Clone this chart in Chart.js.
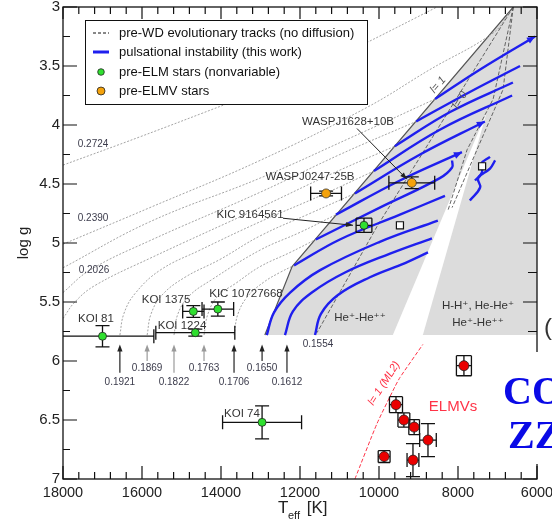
<!DOCTYPE html>
<html>
<head>
<meta charset="utf-8">
<script src="https://cdn.jsdelivr.net/npm/chart.js@4.4.1/dist/chart.umd.min.js"></script>
<style>
  html, body { margin: 0; padding: 0; background: #fff; }
</style>
</head>
<body>
<canvas id="myChart" width="552" height="523"></canvas>
<script>
// axis ticks
const xTicks = [18000, 16000, 14000, 12000, 10000, 8000, 6000];
const yTicks = [3, 3.5, 4, 4.5, 5, 5.5, 6, 6.5, 7];

// pre-WD evolutionary tracks [Teff, log g], part outside the instability strip
const track2724 = [[18000, 4.34], [16050, 4.10], [13850, 3.82], [12000, 3.58], [10300, 3.30], [8530, 3.00]];
const track2390 = [[18000, 5.01], [15800, 4.70], [13010, 4.30], [10300, 3.85], [8710, 3.53], [7110, 3.22], [6680, 3.04]];
const trackA = [[18000, 5.21], [15800, 4.82], [13010, 4.45], [10730, 4.11], [8580, 3.78]];
const trackB = [[18000, 5.42], [17320, 5.23], [15800, 4.98], [13010, 4.57], [10990, 4.25], [9060, 3.97]];
const track2026 = [[18000, 5.64], [17700, 5.50], [17190, 5.36], [15800, 5.13], [13010, 4.70], [11240, 4.42], [9600, 4.18]];
const track1921 = [[16560, 5.78], [16460, 5.60], [16180, 5.43], [15540, 5.23], [14530, 5.06], [13010, 4.82], [11490, 4.60], [10130, 4.39]];
const track1869 = [[15870, 5.78], [15770, 5.60], [15490, 5.44], [14910, 5.29], [14030, 5.14], [13010, 4.94], [11750, 4.75], [10610, 4.58]];
const track1822 = [[15190, 5.78], [15090, 5.60], [14810, 5.45], [14230, 5.31], [13010, 5.06], [12000, 4.91], [11090, 4.76]];
const track1763 = [[14430, 5.78], [14330, 5.60], [14080, 5.45], [13620, 5.34], [13010, 5.20], [12250, 5.08], [11600, 4.97]];
const track1706 = [[13670, 5.78], [13570, 5.60], [13320, 5.45], [12910, 5.33], [12510, 5.25], [12150, 5.19]];

// same tracks inside the strip (pulsational instability)
const blueA = [[8580, 3.78], [7440, 3.53], [6050, 3.25]];
const blueB = [[9060, 3.97], [7700, 3.72], [6430, 3.50]];
const blue2026 = [[9600, 4.18], [8200, 3.89], [6610, 3.64]];
const blue1921 = [[10130, 4.39], [8460, 4.04], [6630, 3.75]];
const blue1869 = [[10610, 4.58], [8960, 4.25], [7320, 3.97]];
const blue1822 = [[11090, 4.76], [9470, 4.47], [7900, 4.23]];
const blue1763 = [[11600, 4.97], [9980, 4.70], [8460, 4.45], [8150, 4.36], [8150, 4.30]];
const blue1706 = [[12150, 5.19], [10990, 4.97], [9470, 4.76], [8330, 4.60]];
const blue1650 = [[12840, 5.78], [12660, 5.59], [12250, 5.42], [11490, 5.23], [9980, 4.99], [8510, 4.81]];
const blue1612 = [[12380, 5.78], [12180, 5.58], [11700, 5.42], [10860, 5.25], [9720, 5.09], [8660, 4.96]];
const blue1554 = [[11620, 5.78], [11470, 5.60], [11040, 5.44], [10230, 5.29], [9340, 5.17], [8760, 5.08]];
const blueHook1 = [[7700, 4.64], [7440, 4.53], [7490, 4.45], [7190, 4.37], [7060, 4.30]];
const blueHook2 = [[7570, 4.47], [7390, 4.40], [7420, 4.33], [7190, 4.27]];

// instability strip (grey) and the gap in it
const stripT = [6600, 6000, 6000, 12890, 12200];
const stripG = [3.0, 3.0, 5.78, 5.78, 5.20];
const gapT = [7270, 9650, 8890];
const gapG = [3.89, 5.78, 5.78];

// l = 0 and other dashed boundaries, l = 1 (ML2) red
const edgeL0 = [[6600, 3.0], [10050, 4.86], [11570, 5.76]];
const edgeD2 = [[6600, 3.0], [7110, 3.78], [7770, 4.21], [8250, 4.72]];
const edgeD3 = [[6600, 3.0], [6860, 3.70], [7520, 4.21], [8150, 4.70]];
const edgeML2 = [[10610, 7.0], [10050, 6.53], [9600, 6.22], [9470, 6.14], [8890, 5.86]];

// stars
const elmNames = ["KOI 81", "KOI 1224", "KOI 1375", "KIC 10727668", "KOI 74", "KIC 9164561"];
const elmT = [17000, 14650, 14700, 14080, 12960, 10380];
const elmG = [5.79, 5.76, 5.58, 5.56, 6.52, 4.85];
const elmErrT = [1300, 1000, 270, 400, 1000, 200];
const elmErrG = [0.09, 0.03, 0.05, 0.06, 0.14, 0.06];

const elmvNames = ["WASPJ1628+10B", "WASPJ0247-25B"];
const elmvT = [9170, 11340];
const elmvG = [4.49, 4.58];
const elmvErrT = [580, 390];
const elmvErrG = [0.05, 0.02];

const zzT = [7850, 9570, 9370, 9110, 8760, 9140, 9870];
const zzG = [6.04, 6.37, 6.50, 6.56, 6.67, 6.84, 6.81];
const zzErrT = [190, 165, 150, 135, 210, 150, 150];
const zzErrG = [0.085, 0.068, 0.06, 0.064, 0.14, 0.14, 0.05];

const openT = [9470, 7390];
const openG = [4.85, 4.35];

// track masses marked by arrows at the bottom
const arrowMass = ["0.1921", "0.1869", "0.1822", "0.1763", "0.1706", "0.1650", "0.1612"];
const arrowT = [16560, 15870, 15190, 14430, 13670, 12960, 12330];

// text placed on the diagram
const notes = [
  { t: "WASPJ1628+10B", T: 10785, g: 3.97 },
  { t: "WASPJ0247-25B", T: 11747, g: 4.44 },
  { t: "KIC 9164561", T: 13266, g: 4.76 },
  { t: "KOI 81", T: 17165, g: 5.64 },
  { t: "KOI 1375", T: 15392, g: 5.48 },
  { t: "KOI 1224", T: 14987, g: 5.70 },
  { t: "KIC 10727668", T: 13367, g: 5.43 },
  { t: "KOI 74", T: 13468, g: 6.45 },
  { t: "He\u207A-He\u207A\u207A", T: 10481, g: 5.63 },
  { t: "H-H\u207A, He-He\u207A", T: 7494, g: 5.53 },
  { t: "He\u207A-He\u207A\u207A", T: 7494, g: 5.68 }
];
const massNotes = [
  { t: "0.2724", T: 17240, g: 4.16 },
  { t: "0.2390", T: 17240, g: 4.79 },
  { t: "0.2026", T: 17215, g: 5.23 },
  { t: "0.1554", T: 11544, g: 5.86 }
];

const FONT = '"Liberation Sans", Arial, "DejaVu Sans", sans-serif';

function pts(list) {
  return list.map(p => ({ x: p[0], y: p[1] }));
}
function line(list, color, width, dash, order, tension, extra) {
  return Object.assign({
    data: pts(list), showLine: true, borderColor: color, borderWidth: width,
    borderDash: dash, pointRadius: 0, pointHoverRadius: 0, tension: tension,
    fill: false, order: order
  }, extra || {});
}

const dotted = [track2724, track2390, trackA, trackB, track2026, track1921, track1869, track1822, track1763, track1706];
const blues = [blueA, blueB, blue2026, blue1921, blue1869, blue1822, blue1763, blue1706, blue1650, blue1612, blue1554, blueHook1, blueHook2];
const withArrow = [blueA, blue1869, blue1822];

let datasets = [];
datasets.push({ data: elmT.map((t, i) => ({ x: t, y: elmG[i] })), pointStyle: "circle", pointRadius: 4, backgroundColor: "#2fe02f", borderColor: "#222", borderWidth: 0.8, order: 0, marker: true });
datasets.push({ data: elmvT.map((t, i) => ({ x: t, y: elmvG[i] })), pointStyle: "circle", pointRadius: 4.5, backgroundColor: "#f4a20c", borderColor: "#333", borderWidth: 0.8, order: 0, marker: true });
datasets.push({ data: zzT.map((t, i) => ({ x: t, y: zzG[i] })), pointStyle: "circle", pointRadius: 5, backgroundColor: "#ea0000", borderColor: "#222", borderWidth: 0.8, order: 0, marker: true });
datasets.push({ data: openT.map((t, i) => ({ x: t, y: openG[i] })), pointStyle: "rect", pointRadius: 5, backgroundColor: "#fff", borderColor: "#111", borderWidth: 1.2, order: 0 });
blues.forEach(b => datasets.push(line(b, "#1f1fee", 2.4, [], 1, 0.4, { arrow: withArrow.includes(b) })));
dotted.forEach(d => datasets.push(line(d, "#9a9a9a", 0.9, [2, 1.6], 2, 0.4)));
[edgeL0, edgeD2, edgeD3].forEach(d => datasets.push(line(d, "#555", 0.9, [4, 2], 2, 0)));
datasets.push(line(edgeML2, "#ff3347", 1, [4, 2], 2, 0.2));

let errDone = false;
const boxedELM = [false, false, false, false, false, true];
const boxedZZ = [true, true, true, true, false, false, true];

function P(chart, T, g) {
  return [chart.scales.x.getPixelForValue(T), chart.scales.y.getPixelForValue(g)];
}
function polyFill(ctx, chart, T, G, color) {
  ctx.fillStyle = color;
  ctx.beginPath();
  T.forEach((t, i) => {
    const [x, y] = P(chart, t, G[i]);
    if (i === 0) ctx.moveTo(x, y); else ctx.lineTo(x, y);
  });
  ctx.closePath();
  ctx.fill();
}
function errorBar(ctx, chart, T, g, eT, eG, boxed) {
  const [x, y] = P(chart, T, g);
  const [xa, ya] = P(chart, T + eT, g - eG);
  const [xb, yb] = P(chart, T - eT, g + eG);
  const cx = boxed ? Math.abs(xb - xa) / 2 : 7;
  const cy = boxed ? Math.abs(yb - ya) / 2 : 7;
  ctx.beginPath();
  ctx.moveTo(xa, y); ctx.lineTo(xb, y);
  ctx.moveTo(x, ya); ctx.lineTo(x, yb);
  ctx.moveTo(xa, y - cy); ctx.lineTo(xa, y + cy);
  ctx.moveTo(xb, y - cy); ctx.lineTo(xb, y + cy);
  ctx.moveTo(x - cx, ya); ctx.lineTo(x + cx, ya);
  ctx.moveTo(x - cx, yb); ctx.lineTo(x + cx, yb);
  ctx.stroke();
}
function arrowHead(ctx, xa, ya, xb, yb, size, half) {
  const a = Math.atan2(yb - ya, xb - xa);
  ctx.beginPath();
  ctx.moveTo(xb, yb);
  ctx.lineTo(xb - size * Math.cos(a) + half * Math.sin(a), yb - size * Math.sin(a) - half * Math.cos(a));
  ctx.lineTo(xb - size * Math.cos(a) - half * Math.sin(a), yb - size * Math.sin(a) + half * Math.cos(a));
  ctx.closePath();
  ctx.fill();
}
function pointer(ctx, chart, T1, g1, T2, g2) {
  const [x1, y1] = P(chart, T1, g1);
  const [x2, y2] = P(chart, T2, g2);
  ctx.strokeStyle = "#222"; ctx.fillStyle = "#222"; ctx.lineWidth = 1;
  ctx.beginPath(); ctx.moveTo(x1, y1); ctx.lineTo(x2, y2); ctx.stroke();
  arrowHead(ctx, x1, y1, x2, y2, 7, 2.5);
}
function rotText(ctx, chart, txt, T, g, ang) {
  const [x, y] = P(chart, T, g);
  ctx.save();
  ctx.translate(x, y);
  ctx.rotate(ang);
  ctx.fillText(txt, 0, 0);
  ctx.restore();
}

const decor = {
  id: "decor",
  beforeDatasetsDraw(chart) {
    const { ctx, chartArea: a } = chart;
    errDone = false;
    ctx.save();
    ctx.beginPath(); ctx.rect(a.left, a.top, a.right - a.left, a.bottom - a.top); ctx.clip();
    polyFill(ctx, chart, stripT, stripG, "#dcdcdc");
    polyFill(ctx, chart, gapT, gapG, "#ffffff");
    ctx.strokeStyle = "#555"; ctx.lineWidth = 1.2;
    ctx.beginPath();
    let p = P(chart, stripT[0], stripG[0]); ctx.moveTo(p[0], p[1]);
    p = P(chart, stripT[4], stripG[4]); ctx.lineTo(p[0], p[1]);
    p = P(chart, stripT[3], stripG[3]); ctx.lineTo(p[0], p[1]);
    ctx.stroke();
    ctx.restore();
  },
  beforeDatasetDraw(chart, args) {
    const ds = chart.data.datasets[args.index];
    if (!ds.marker || errDone) return;
    errDone = true;
    const { ctx, chartArea: a } = chart;
    ctx.save();
    ctx.beginPath(); ctx.rect(a.left, a.top, a.right - a.left, a.bottom - a.top); ctx.clip();
    ctx.strokeStyle = "#111"; ctx.lineWidth = 1.3;
    elmT.forEach((t, i) => errorBar(ctx, chart, t, elmG[i], elmErrT[i], elmErrG[i], boxedELM[i]));
    elmvT.forEach((t, i) => errorBar(ctx, chart, t, elmvG[i], elmvErrT[i], elmvErrG[i], false));
    zzT.forEach((t, i) => errorBar(ctx, chart, t, zzG[i], zzErrT[i], zzErrG[i], boxedZZ[i]));
    ctx.restore();
  },
  afterDatasetsDraw(chart) {
    const { ctx, chartArea: a, scales: { x: sx, y: sy } } = chart;
    ctx.save();
    // arrow heads on the blue tracks
    ctx.fillStyle = "#1f1fee";
    chart.data.datasets.forEach((ds, i) => {
      if (!ds.arrow) return;
      const n = ds.data.length;
      const [xa, ya] = P(chart, ds.data[n - 2].x, ds.data[n - 2].y);
      const [xb, yb] = P(chart, ds.data[n - 1].x, ds.data[n - 1].y);
      arrowHead(ctx, xa, ya, xb, yb, 8, 3.5);
    });

    // star names and region names
    ctx.fillStyle = "#333";
    ctx.font = "11.5px " + FONT;
    ctx.textAlign = "center"; ctx.textBaseline = "middle";
    notes.forEach(n => { const [x, y] = P(chart, n.T, n.g); ctx.fillText(n.t, x, y); });
    pointer(ctx, chart, 10557, 4.03, 9291, 4.46);
    pointer(ctx, chart, 12430, 4.79, 10658, 4.85);

    // mass labels
    ctx.fillStyle = "#3b3b4b";
    ctx.font = "10px " + FONT;
    massNotes.forEach(n => { const [x, y] = P(chart, n.T, n.g); ctx.fillText(n.t, x, y); });
    arrowT.forEach((t, i) => {
      const longOne = i % 2 === 0;
      const grey = i >= 1 && i <= 3;
      const col = grey ? "#9a9a9a" : "#222";
      const [x, yTip] = P(chart, t, 5.86);
      const [, yBase] = P(chart, t, longOne ? 6.10 : 6.0);
      const [, yLab] = P(chart, t, longOne ? 6.18 : 6.06);
      ctx.strokeStyle = col; ctx.fillStyle = col; ctx.lineWidth = 1.2;
      ctx.beginPath(); ctx.moveTo(x, yBase); ctx.lineTo(x, yTip + 4); ctx.stroke();
      arrowHead(ctx, x, yBase, x, yTip, 7, 2.6);
      ctx.fillStyle = "#3b3b4b";
      ctx.fillText(arrowMass[i], x, yLab);
    });

    // l labels
    ctx.font = "italic 11px " + FONT;
    ctx.fillStyle = "#555";
    rotText(ctx, chart, "l= 1", 8507, 3.66, -0.86);
    rotText(ctx, chart, "l= 0", 7949, 3.79, -1.03);
    ctx.fillStyle = "#ff3347";
    rotText(ctx, chart, "l= 1 (ML2)", 9873, 6.19, -1.0);
    ctx.font = "15px " + FONT;
    const [ex, ey] = P(chart, 8127, 6.39);
    ctx.fillText("ELMVs", ex, ey);

    // legend
    ctx.fillStyle = "#fff";
    ctx.fillRect(85, 20, 282, 84);
    ctx.strokeStyle = "#111"; ctx.lineWidth = 1;
    ctx.strokeRect(85.5, 20.5, 282, 84);
    ctx.textAlign = "left";
    ctx.font = "13px " + FONT;
    ctx.fillStyle = "#111";
    ctx.fillText("pre-WD evolutionary tracks (no diffusion)", 119, 33);
    ctx.fillText("pulsational instability (this work)", 119, 52);
    ctx.fillText("pre-ELM stars (nonvariable)", 119, 72);
    ctx.fillText("pre-ELMV stars", 119, 91);
    ctx.setLineDash([3, 2]);
    ctx.beginPath(); ctx.moveTo(93, 33); ctx.lineTo(109, 33); ctx.stroke();
    ctx.setLineDash([]);
    ctx.strokeStyle = "#1f1fee"; ctx.lineWidth = 3;
    ctx.beginPath(); ctx.moveTo(93, 52); ctx.lineTo(109, 52); ctx.stroke();
    ctx.lineWidth = 0.8; ctx.strokeStyle = "#222";
    ctx.fillStyle = "#2fe02f";
    ctx.beginPath(); ctx.arc(101, 72, 3.3, 0, Math.PI * 2); ctx.fill(); ctx.stroke();
    ctx.fillStyle = "#f4a20c";
    ctx.beginPath(); ctx.arc(101, 91, 4, 0, Math.PI * 2); ctx.fill(); ctx.stroke();

    // frame and inward ticks
    ctx.strokeStyle = "#111"; ctx.lineWidth = 1.3;
    ctx.strokeRect(a.left, a.top, a.right - a.left, a.bottom - a.top);
    ctx.lineWidth = 1.2;
    ctx.beginPath();
    for (let v = 6000; v <= 18000; v += 400) {
      const x = sx.getPixelForValue(v);
      const major = v % 2000 === 0;
      ctx.moveTo(x, a.bottom); ctx.lineTo(x, a.bottom - (major ? 13 : 7));
      ctx.moveTo(x, a.top); ctx.lineTo(x, a.top + (major ? 12 : 7));
    }
    for (let k = 0; k <= 16; k++) {
      const v = 3 + k * 0.25;
      const y = sy.getPixelForValue(v);
      const major = k % 2 === 0;
      ctx.moveTo(a.left, y); ctx.lineTo(a.left + (major ? 14 : 7), y);
      ctx.moveTo(a.right, y); ctx.lineTo(a.right - (major ? 14 : 9), y);
    }
    ctx.stroke();

    // edge of the neighbouring panel
    ctx.fillStyle = "#fff";
    ctx.fillRect(505, 352, 47, 112);
    ctx.fillStyle = "#0a0ae6";
    ctx.font = "bold 40px \"Liberation Serif\", \"DejaVu Serif\", serif";
    ctx.textBaseline = "alphabetic";
    ctx.fillText("CO", 503, 404);
    ctx.fillText("ZZ", 508, 448);
    ctx.fillStyle = "#333";
    ctx.font = "24px " + FONT;
    ctx.fillText("(", 544, 335);

    // axis titles
    ctx.fillStyle = "#222";
    ctx.font = "15px " + FONT;
    ctx.save();
    ctx.translate(28, 243);
    ctx.rotate(-Math.PI / 2);
    ctx.textAlign = "center";
    ctx.fillText("log g", 0, 0);
    ctx.restore();
    ctx.font = "17px " + FONT;
    ctx.fillText("T", 278, 513);
    ctx.font = "11px " + FONT;
    ctx.fillText("eff", 288, 519);
    ctx.font = "17px " + FONT;
    ctx.fillText(" [K]", 302, 513);
    ctx.restore();
  }
};

new Chart(document.getElementById("myChart"), {
  type: "scatter",
  data: { datasets: datasets },
  options: {
    responsive: false,
    maintainAspectRatio: false,
    animation: false,
    devicePixelRatio: 1,
    layout: { padding: { top: 7, right: 15, left: 0, bottom: 0 }, autoPadding: false },
    plugins: { legend: { display: false }, tooltip: { enabled: false } },
    scales: {
      x: {
        type: "linear", min: 6000, max: 18000, reverse: true,
        afterBuildTicks: s => { s.ticks = xTicks.map(v => ({ value: v })); },
        afterFit: s => { s.height = 44; s.paddingLeft = 0; s.paddingRight = 0; },
        grid: { display: false, drawTicks: false },
        border: { display: false },
        ticks: { autoSkip: false, maxRotation: 0, padding: 5, color: "#222", font: { family: FONT, size: 14.5 }, callback: v => String(v) }
      },
      y: {
        type: "linear", min: 3, max: 7, reverse: true,
        afterBuildTicks: s => { s.ticks = yTicks.map(v => ({ value: v })); },
        afterFit: s => { s.width = 63; s.paddingTop = 0; s.paddingBottom = 0; },
        grid: { display: false, drawTicks: false },
        border: { display: false },
        ticks: { autoSkip: false, padding: 3, color: "#222", font: { family: FONT, size: 15 }, callback: v => String(v) }
      }
    }
  },
  plugins: [decor]
});
</script>
</body>
</html>
